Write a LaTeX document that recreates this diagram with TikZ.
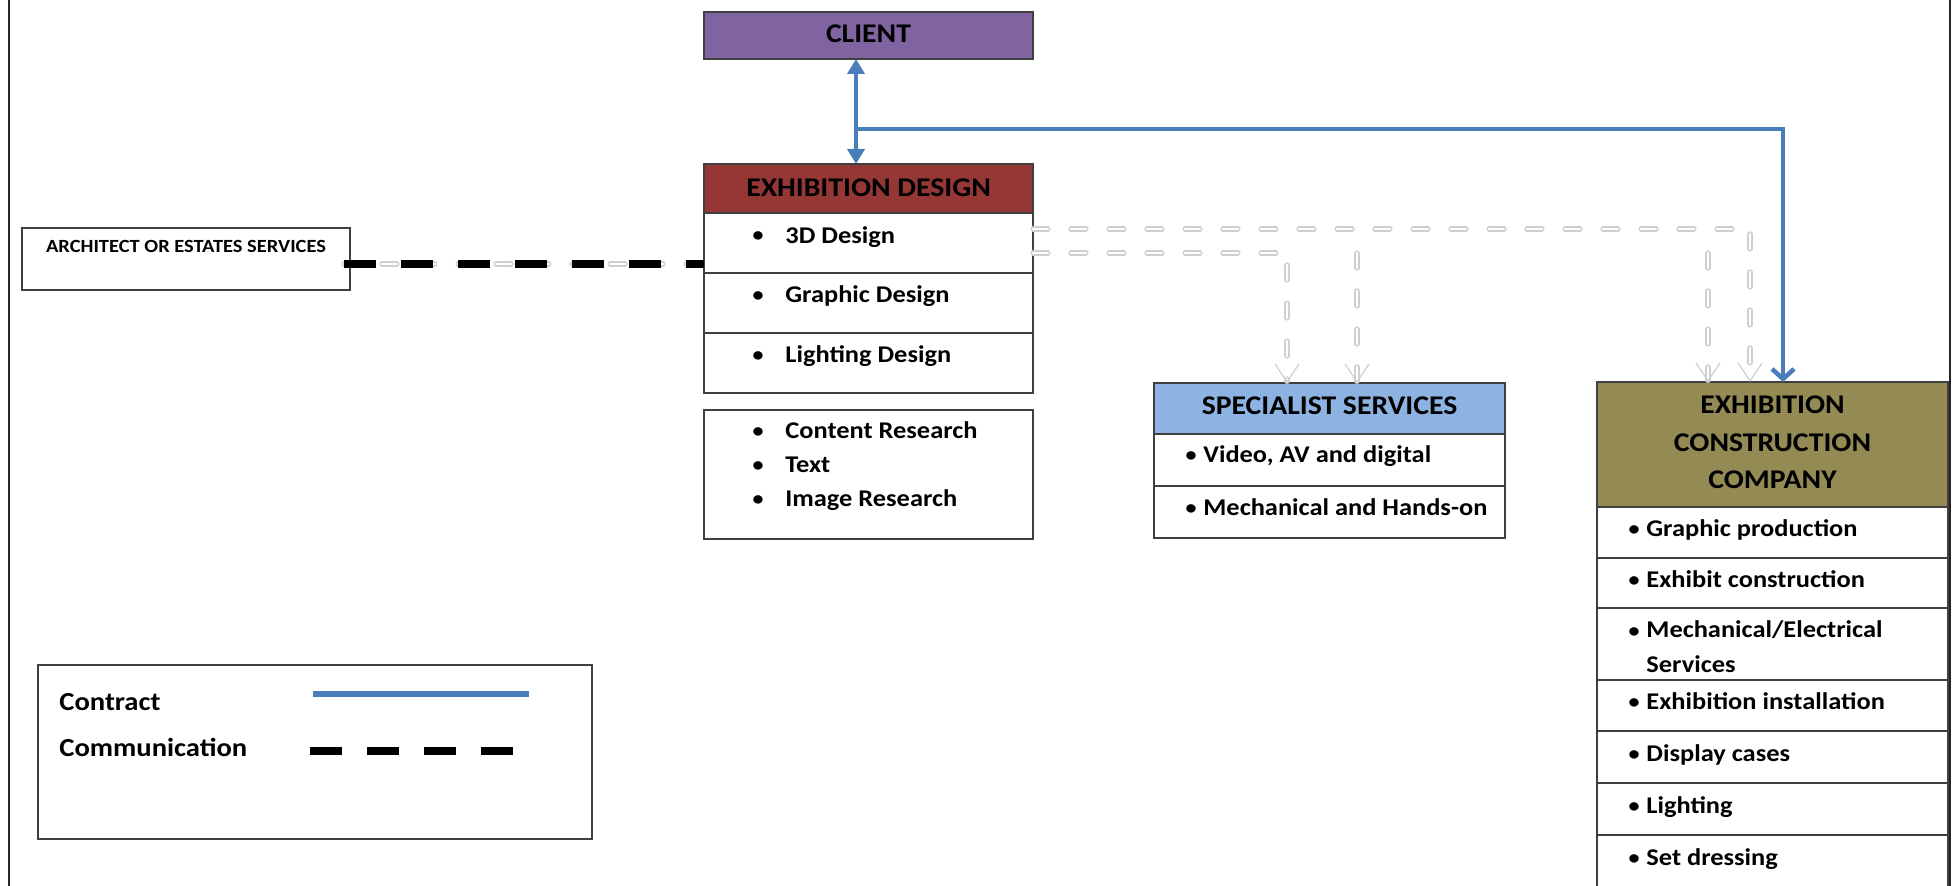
\documentclass[tikz,border=0pt]{standalone}
\usepackage{fontspec}
\setmainfont{Carlito}[FakeStretch=1.1]
\usetikzlibrary{arrows.meta}
\definecolor{clientc}{HTML}{8064A2}
\definecolor{designc}{HTML}{953735}
\definecolor{specc}{HTML}{8DB3E2}
\definecolor{constc}{HTML}{948A54}
\definecolor{contractc}{HTML}{4A7EBB}
\definecolor{boxline}{HTML}{404040}
\definecolor{lightline}{HTML}{CFCFCF}
\newcommand\rectnode[6]{\node[#2, minimum width={(#5-#3)*0.5pt}, minimum height={(#6-#4)*0.5pt}] (#1) at ({(#3+#5)/2},{(#4+#6)/2}) {};}
\begin{document}
\begin{tikzpicture}[x=0.5pt, y=-0.5pt,
  cell/.style={draw=boxline, line width=0.8pt, fill=white, inner sep=0pt, outer sep=0pt},
  hdr/.style={font=\bfseries\fontsize{13.5}{16}\selectfont, inner sep=0pt, anchor=base},
  itm/.style={font=\bfseries\fontsize{12}{14}\selectfont, inner sep=0pt, anchor=base west},
  bul/.style={font=\bfseries\fontsize{10}{12}\selectfont, inner sep=0pt, anchor=base},
  lgd/.style={font=\bfseries\fontsize{13}{15}\selectfont, inner sep=0pt, anchor=base west},
  contract/.style={draw=contractc, line width=2.25pt},
  comm/.style={draw=black, line width=4pt, dash pattern=on 16pt off 12.5pt},
  faint/.style={draw=lightline, line width=0.6pt, double=white, double distance=1.4pt, line cap=round, dash pattern=on 7.5pt off 11.5pt},
  faintarrow/.style={-{Straight Barb[length=9pt,width=12pt]}},
]
\useasboundingbox (0,0) rectangle (1952,886);
\fill[white] (0,0) rectangle (1952,886);
\clip (0,0) rectangle (1952,886);

% frame
\draw[line width=1pt, black!85] (9,0) -- (9,886);
\draw[line width=1pt, black!85] (1950,0) -- (1950,886);

% client
\rectnode{client}{cell, fill=clientc}{704}{12}{1033}{59}
\node[hdr] (clientt) at (868.5,42.7) {CLIENT};

% exhibition design
\rectnode{dhead}{cell, fill=designc}{704}{164}{1033}{213}
\node[hdr] (dheadt) at (868.5,196.7) {EXHIBITION DESIGN};
\rectnode{d1}{cell}{704}{213}{1033}{273}
\rectnode{d2}{cell}{704}{273}{1033}{333}
\rectnode{d3}{cell}{704}{333}{1033}{393}
\rectnode{dres}{cell}{704}{410}{1033}{539}
\node[bul] (b1) at (758,242) {\textbullet};
\node[itm] (t1) at (785,243.3) {3D Design};
\node[bul] (b2) at (758,302) {\textbullet};
\node[itm] (t2) at (785,303) {Graphic Design};
\node[bul] (b3) at (758,362) {\textbullet};
\node[itm] (t3) at (785,363) {Lighting Design};
\node[bul] (b4) at (758,438) {\textbullet};
\node[itm] (t4) at (785,439) {Content Research};
\node[bul] (b5) at (758,472) {\textbullet};
\node[itm] (t5) at (785,473) {Text};
\node[bul] (b6) at (758,506) {\textbullet};
\node[itm] (t6) at (785,507) {Image Research};

% architect
\rectnode{arch}{cell}{22}{228}{350}{290}
\node[font=\bfseries\fontsize{9.3}{11}\selectfont, inner sep=0pt, anchor=base] (archt) at (186,253) {ARCHITECT OR ESTATES SERVICES};

% specialist services
\rectnode{shead}{cell, fill=specc}{1154}{383}{1505}{434}
\node[hdr] (sheadt) at (1329.5,415) {SPECIALIST SERVICES};
\rectnode{s1}{cell}{1154}{434}{1505}{486}
\rectnode{s2}{cell}{1154}{486}{1505}{538}
\node[bul] (sb1) at (1191,462) {\textbullet};
\node[itm] (st1) at (1203,463) {Video, AV and digital};
\node[bul] (sb2) at (1191,515) {\textbullet};
\node[itm] (st2) at (1203,516) {Mechanical and Hands-on};

% construction company
\rectnode{chead}{cell, fill=constc}{1597}{382}{1948}{507}
\node[hdr] (cht1) at (1772.5,414) {EXHIBITION};
\node[hdr] (cht2) at (1772.5,452) {CONSTRUCTION};
\node[hdr] (cht3) at (1772.5,489) {COMPANY};
\rectnode{c1}{cell}{1597}{507}{1948}{558}
\rectnode{c2}{cell}{1597}{558}{1948}{608}
\rectnode{c3}{cell}{1597}{608}{1948}{680}
\rectnode{c4}{cell}{1597}{680}{1948}{731}
\rectnode{c5}{cell}{1597}{731}{1948}{783}
\rectnode{c6}{cell}{1597}{783}{1948}{835}
\rectnode{c7}{cell}{1597}{835}{1948}{905}
\node[bul] (cb1) at (1634,536) {\textbullet};
\node[itm] (ct1) at (1646,537) {Graphic production};
\node[bul] (cb2) at (1634,587) {\textbullet};
\node[itm] (ct2) at (1646,588) {Exhibit construction};
\node[bul] (cb3) at (1634,637) {\textbullet};
\node[itm] (ct3) at (1646,638) {Mechanical/Electrical};
\node[itm] (ct3b) at (1646,672) {Services};
\node[bul] (cb4) at (1634,708) {\textbullet};
\node[itm] (ct4) at (1646,709) {Exhibition installation};
\node[bul] (cb5) at (1634,760) {\textbullet};
\node[itm] (ct5) at (1646,761) {Display cases};
\node[bul] (cb6) at (1634,812) {\textbullet};
\node[itm] (ct6) at (1646,813) {Lighting};
\node[bul] (cb7) at (1634,864) {\textbullet};
\node[itm] (ct7) at (1646,865) {Set dressing};

% legend
\rectnode{legend}{cell}{38}{665}{592}{839}
\node[lgd] (lgc) at (59,710) {Contract};
\node[lgd] (lgm) at (59,756) {Communication};
\coordinate (lc1) at (313,694);
\coordinate (lc2) at (529,694);
\draw[draw=contractc, line width=3.25pt] (lc1) -- (lc2);
\coordinate (lm1) at (310,751);
\coordinate (lm2) at (514,751);
\draw[comm] (lm1) -- (lm2);

% faint communication lines
\draw[faint, faintarrow] ([yshift=7pt]d1.east) -| ([xshift=-11.25pt]chead.north);
\coordinate (v2) at (1708,253);
\draw[faint, faintarrow] (v2) -- (v2 |- chead.north);
\draw[faint, faintarrow] ([yshift=-5pt]d1.east) -| ([xshift=-21.25pt]shead.north);
\coordinate (v4) at (1357,253);
\draw[faint, faintarrow] (v4) -- (v4 |- shead.north);

% architect communication
\coordinate (cm1) at (344,264);
\draw[faint] (cm1) -- (cm1 -| d1.west);
\draw[comm] (cm1) -- (cm1 -| d1.west);

% contracts
\draw[contract, {Triangle[length=7.5pt,width=8.5pt]}-{Triangle[length=7.5pt,width=8.5pt]}] ([xshift=-6.25pt]client.south) -- ([xshift=-6.25pt]dhead.north);
\coordinate (br) at (856,129);
\draw[contract, -{Straight Barb[length=5pt,width=11pt]}] (br) -| ([xshift=5.25pt]chead.north);
\end{tikzpicture}
\end{document}
